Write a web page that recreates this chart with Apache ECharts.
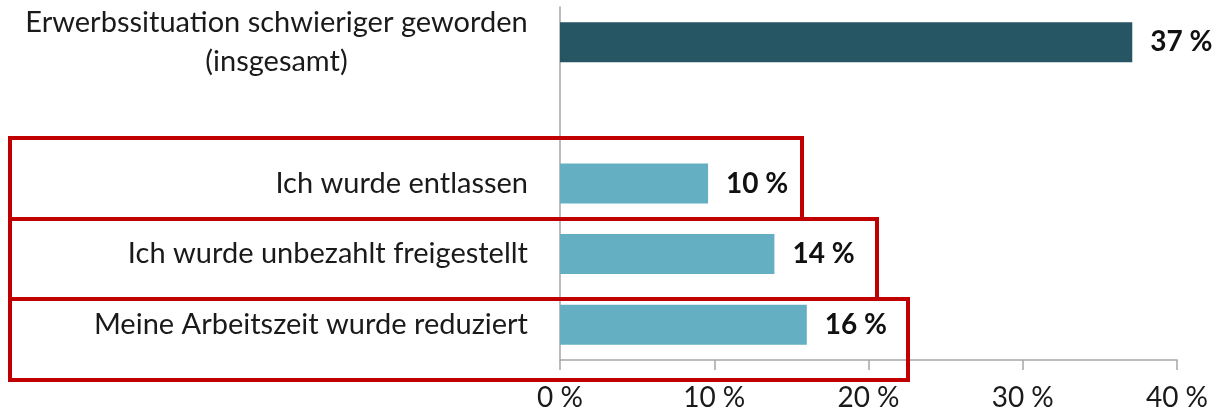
<!DOCTYPE html>
<html>
<head>
<meta charset="utf-8">
<script src="https://cdn.jsdelivr.net/npm/echarts@6/dist/echarts.min.js"></script>
<style>
  html, body { margin: 0; padding: 0; background: #fff; }
  #chart { width: 1221px; height: 412px; }
</style>
</head>
<body>
<div id="chart"></div>
<script>
// Kategorien von oben nach unten (leerer Platz als Trenner)
const categories = [
  'Erwerbssituation schwieriger geworden\n(insgesamt)',
  '',
  'Ich wurde entlassen',
  'Ich wurde unbezahlt freigestellt',
  'Meine Arbeitszeit wurde reduziert'
]
const values = [37.1, null, 9.6, 13.9, 16.0]
const barColors = ['#265663', null, '#65afc3', '#65afc3', '#65afc3']
const xTicks = [0, 10, 20, 30, 40]

const FONT = 'Lato, "Open Sans", sans-serif'
const FS = 29

// Breite der ersten Zeile messen, damit die zweite Zeile darunter zentriert steht
const ctx = document.createElement('canvas').getContext('2d')
ctx.font = FS + 'px ' + FONT
const firstLineWidth = Math.ceil(ctx.measureText(categories[0].split('\n')[0]).width)

const chart = echarts.init(document.getElementById('chart'))
chart.setOption({
  animation: false,
  grid: { left: 560, right: 44, top: 7, bottom: 49, containLabel: false },
  xAxis: {
    type: 'value',
    min: xTicks[0],
    max: xTicks[xTicks.length - 1],
    interval: 10,
    axisLine: { show: true, lineStyle: { color: '#a6a6a6', width: 1.5 } },
    axisTick: { show: true, length: 10, lineStyle: { color: '#a6a6a6', width: 1.5 } },
    splitLine: { show: false },
    axisLabel: {
      margin: 24,
      fontFamily: FONT,
      fontSize: FS - 1,
      color: '#1a1a1a',
      formatter: v => v + ' %'
    }
  },
  yAxis: {
    type: 'category',
    inverse: true,
    data: categories,
    axisLine: { show: true, lineStyle: { color: '#a6a6a6', width: 1.5 } },
    axisTick: { show: false },
    axisLabel: {
      margin: 32,
      fontFamily: FONT,
      fontSize: FS,
      color: '#1a1a1a',
      lineHeight: 39,
      formatter: (v, i) => {
        if (i !== 0) return v
        return v.split('\n').map(s => '{c|' + s + '}').join('\n')
      },
      rich: {
        c: { width: firstLineWidth, align: 'center', fontFamily: FONT, fontSize: FS, color: '#1a1a1a', lineHeight: 39 }
      }
    }
  },
  series: [{
    type: 'bar',
    barWidth: 40,
    data: values.map((v, i) => v == null ? null : { value: v, itemStyle: { color: barColors[i] } }),
    label: {
      show: true,
      position: 'right',
      distance: 18,
      fontFamily: FONT,
      fontSize: FS - 1,
      fontWeight: 'bold',
      color: '#111',
      formatter: p => Math.round(p.value) + ' %'
    }
  }],
  // rote Markierungsrahmen
  graphic: [
    { type: 'rect', shape: { x: 10, y: 138, width: 792, height: 81 }, style: { fill: 'none', stroke: '#c00000', lineWidth: 4 }, z: 100 },
    { type: 'rect', shape: { x: 10, y: 219, width: 867, height: 80 }, style: { fill: 'none', stroke: '#c00000', lineWidth: 4 }, z: 100 },
    { type: 'rect', shape: { x: 10, y: 299, width: 898, height: 81 }, style: { fill: 'none', stroke: '#c00000', lineWidth: 4 }, z: 100 }
  ]
})
</script>
</body>
</html>
